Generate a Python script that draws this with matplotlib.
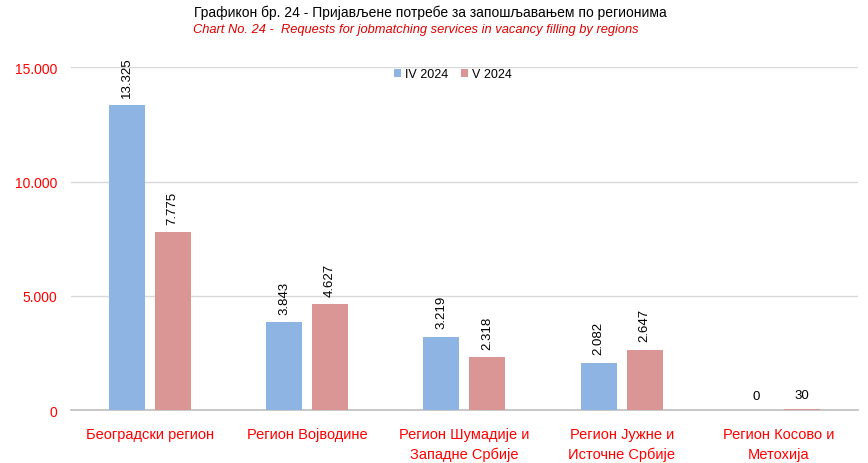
import matplotlib.pyplot as plt
from matplotlib import font_manager
import numpy as np

names = {f.name for f in font_manager.fontManager.ttflist}
fam = "Liberation Sans Narrow" if "Liberation Sans Narrow" in names else "Liberation Sans"
plt.rcParams["font.family"] = [fam, "DejaVu Sans"]

regions = ["Београдски регион", "Регион Војводине", "Регион Шумадије и\nЗападне Србије",
           "Регион Јужне и\nИсточне Србије", "Регион Косово и\nМетохија"]
iv_2024 = [13325, 3843, 3219, 2082, 0]
v_2024 = [7775, 4627, 2318, 2647, 30]
yticks = [0, 5000, 10000, 15000]

def fmt(v):
    return f"{v:,}".replace(",", ".")

fig = plt.figure(figsize=(8.68, 4.64), dpi=100)
ax = fig.add_axes([0.082, 0.114, 0.906, 0.739])

x = np.arange(len(regions))
w = 0.229
off = 0.146
b1 = ax.bar(x - off, iv_2024, w, color="#8db4e2", label="IV 2024", zorder=3)
b2 = ax.bar(x + off, v_2024, w, color="#da9694", label="V 2024", zorder=3)

for bars, vals in [(b1, iv_2024), (b2, v_2024)]:
    for rect, v in zip(bars, vals):
        ax.annotate(fmt(v), (rect.get_x() + rect.get_width() / 2, v),
                    xytext=(0, 6), textcoords="offset points",
                    ha="center", va="bottom", rotation=90 if v > 100 else 0,
                    fontsize=9.5, color="black")

ax.set_xlim(-0.5, 4.5)
ax.set_ylim(0, 15000)
ax.set_yticks(yticks)
ax.set_yticklabels([fmt(t) for t in yticks], color="red", fontsize=10)
ax.set_xticks(x)
ax.set_xticklabels(regions, color="red", fontsize=10.5, linespacing=1.55)
ax.tick_params(axis="x", length=0, pad=12)
ax.tick_params(axis="y", length=0, pad=10)
ax.grid(axis="y", color="#d9d9d9", linewidth=1, zorder=0)
for s in ["top", "right", "left"]:
    ax.spines[s].set_visible(False)
ax.spines["bottom"].set_color("#bfbfbf")
ax.spines["bottom"].set_linewidth(1.2)

ax.legend(loc="upper center", bbox_to_anchor=(0.485, 1.03), ncol=2, frameon=False,
          fontsize=9, handlelength=0.6, handleheight=0.6, handletextpad=0.3,
          columnspacing=1.0)

fig.text(0.496, 0.973, "Графикон бр. 24 - Пријављене потребе за запошљавањем по регионима",
         ha="center", va="center", fontsize=10, color="black")
fig.text(0.479, 0.935, "Chart No. 24 -  Requests for jobmatching services in vacancy filling by regions",
         ha="center", va="center", fontsize=9.3, color="#e00000", style="italic")

fig.savefig("out.png", dpi=100)
